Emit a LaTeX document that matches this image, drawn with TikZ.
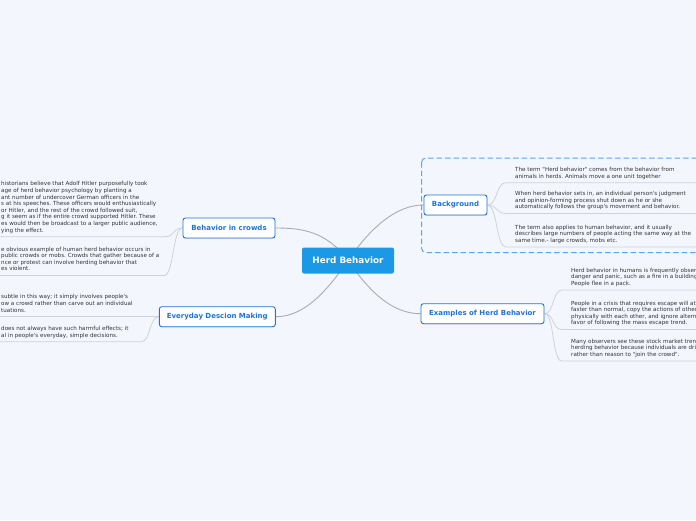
\documentclass[tikz,border=0pt]{standalone}
\usepackage{fontspec}
\newfontfamily\mapfont{DejaVu Sans}
\usetikzlibrary{positioning,backgrounds,shadows}
\frenchspacing

\definecolor{pagebg}{HTML}{F3F6FD}
\definecolor{mainblue}{HTML}{1C99E6}
\definecolor{topicblue}{HTML}{1F74D6}
\definecolor{linegray}{HTML}{ABABB3}
\definecolor{leafgray}{HTML}{D0D2DA}
\definecolor{dashblue}{HTML}{5AA5F4}
\definecolor{leaftext}{HTML}{333333}

\tikzstyle{central} = [rectangle, fill=mainblue, text=white, rounded corners=2pt,
    font=\mapfont\bfseries\fontsize{8.8}{10}\selectfont,
    minimum width=92pt, minimum height=26pt, inner sep=0pt]
\tikzstyle{topic} = [rectangle, draw=topicblue, fill=white, text=topicblue,
    line width=0.9pt, rounded corners=2.5pt, minimum height=20pt, inner sep=0pt,
    font=\mapfont\bfseries\fontsize{7}{8}\selectfont,
    drop shadow={opacity=0.18, shadow xshift=0.3pt, shadow yshift=-0.9pt}]
\tikzstyle{leaf} = [text=leaftext, align=left, inner sep=0pt, anchor=north west,
    font=\mapfont\fontsize{5.6}{6.6}\selectfont]
\tikzstyle{branch} = [draw=linegray, line width=0.9pt]
\tikzstyle{twig} = [draw=leafgray, line width=0.8pt]

\begin{document}
\begin{tikzpicture}[x=1pt,y=-1pt]
  \useasboundingbox (0,0) rectangle (696,520);

  \node[central]                    (hb)       at (348,260.5) {Herd Behavior};
  \node[topic, minimum width=92pt]  (crowds)   at (229,228)   {Behavior in crowds};
  \node[topic, minimum width=116pt] (daily)    at (217.3,316.7) {Everyday Descion Making};
  \node[topic, minimum width=63pt]  (backg)    at (455.5,205) {Background};
  \node[topic, minimum width=123pt] (examples) at (482.5,313.7) {Examples of Herd Behavior};

  % underline ends of the leaves
  \coordinate (bg1a) at (506,182.7);   \coordinate (bg1b) at (696,182.7);
  \coordinate (bg2a) at (506,213.5);   \coordinate (bg2b) at (696,213.5);
  \coordinate (bg3a) at (506,247);     \coordinate (bg3b) at (696,247);
  \coordinate (ex1a) at (562,290);     \coordinate (ex1b) at (696,290);
  \coordinate (ex2a) at (562,329.5);   \coordinate (ex2b) at (696,329.5);
  \coordinate (ex3a) at (562,361);     \coordinate (ex3b) at (696,361);
  \coordinate (cr1a) at (165,236.7);   \coordinate (cr1b) at (0,236.7);
  \coordinate (cr2a) at (164,275.5);   \coordinate (cr2b) at (0,275.5);
  \coordinate (dy1a) at (140,316.7);   \coordinate (dy1b) at (0,316.7);
  \coordinate (dy2a) at (141,341.7);   \coordinate (dy2b) at (0,341.7);

  \node[leaf] (bg1) at (515,167.1) {The term "Herd behavior" comes from the behavior from\\
    animals in herds. Animals move a one unit together};
  \node[leaf] (bg2) at (515,191.3) {When herd behavior sets in, an individual person's judgment\\
    and opinion-forming process shut down as he or she\\
    automatically follows the group's movement and behavior.};
  \node[leaf] (bg3) at (515,224.8) {The term also applies to human behavior, and it usually\\
    describes large numbers of people acting the same way at the\\
    same time.- large crowds, mobs etc.};

  \node[leaf] (ex1) at (571,267.8) {Herd behavior in humans is frequently observ\\
    danger and panic, such as a fire in a building\\
    People flee in a pack.};
  \node[leaf] (ex2) at (571,300.7) {People in a crisis that requires escape will att\\
    faster than normal, copy the actions of other\\
    physically with each other, and ignore alterna\\
    favor of following the mass escape trend.};
  \node[leaf] (ex3) at (571,338.8) {Many observers see these stock market trend\\
    herding behavior because individuals are driv\\
    rather than reason to "join the crowd".};

  \node[leaf] (cr1) at (1,181.5) {historians believe that Adolf Hitler purposefully took\\
    age of herd behavior psychology by planting a\\
    ant number of undercover German officers in the\\
    s at his speeches. These officers would enthusiastically\\
    or Hitler, and the rest of the crowd followed suit,\\
    g it seem as if the entire crowd supported Hitler. These\\
    es would then be broadcast to a larger public audience,\\
    ying the effect.};
  \node[leaf] (cr2) at (1,246.7) {e obvious example of human herd behavior occurs in\\
    public crowds or mobs. Crowds that gather because of a\\
    nce or protest can involve herding behavior that\\
    es violent.};

  \node[leaf] (dy1) at (1,294.5) {subtle in this way; it simply involves people's\\
    ow a crowd rather than carve out an individual\\
    tuations.};
  \node[leaf] (dy2) at (1,326.1) {does not always have such harmful effects; it\\
    al in people's everyday, simple decisions.};

  \begin{pgfonlayer}{background}
    \fill[pagebg] (0,0) rectangle (696,520);
    \draw[dashblue, line width=1pt, dash pattern=on 5.5pt off 3pt, rounded corners=4pt]
      (421.7,158) rectangle (712,252.5);

    \draw[branch] (hb.center) .. controls +(-22,-30) and +(25,0) .. (crowds.east);
    \draw[branch] (hb.center) .. controls +(-22,32) and +(28,0) .. (daily.east);
    \draw[branch] (hb.center) .. controls +(22,-32) and +(-28,0) .. (backg.west);
    \draw[branch] (hb.center) .. controls +(22,32) and +(-28,0) .. (examples.west);

    \foreach \lf in {bg1,bg2,bg3}
      \draw[twig] (backg.east) .. controls +(10,0) and +(-10,0) .. (\lf a) -- (\lf b);
    \foreach \lf in {ex1,ex2,ex3}
      \draw[twig] (examples.east) .. controls +(10,0) and +(-10,0) .. (\lf a) -- (\lf b);
    \foreach \lf in {cr1,cr2}
      \draw[twig] (crowds.west) .. controls +(-10,0) and +(10,0) .. (\lf a) -- (\lf b);
    \foreach \lf in {dy1,dy2}
      \draw[twig] (daily.west) .. controls +(-10,0) and +(10,0) .. (\lf a) -- (\lf b);
  \end{pgfonlayer}
\end{tikzpicture}
\end{document}
